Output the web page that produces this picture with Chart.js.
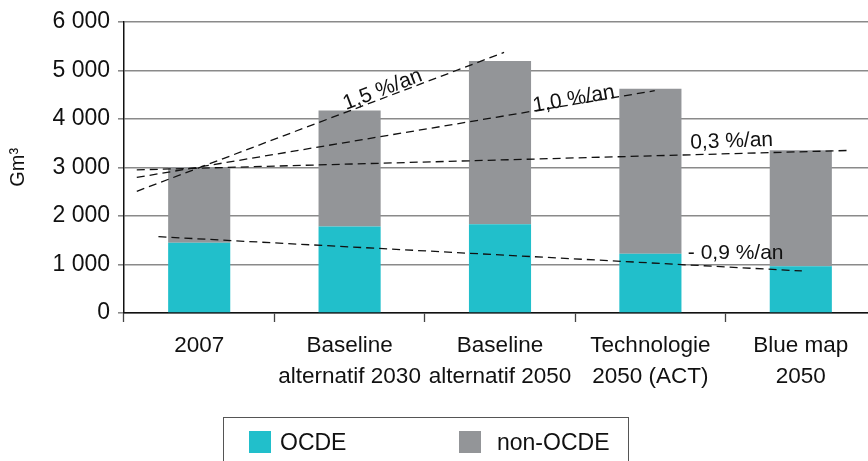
<!DOCTYPE html>
<html><head><meta charset="utf-8">
<script src="https://cdn.jsdelivr.net/npm/chart.js@4/dist/chart.umd.min.js"></script>
<style>
html,body{margin:0;padding:0;background:#fff;overflow:hidden;width:868px;height:461px;}
#wrap{position:relative;width:868px;height:461px;overflow:hidden;}
canvas{position:absolute;left:0;top:0;}
#legend{position:absolute;left:223px;top:417px;width:406px;height:60px;border:1px solid #555;box-sizing:border-box;font-family:"Liberation Sans",Arial,sans-serif;font-size:23px;color:#111;}
.sw{position:absolute;top:13px;width:22px;height:22px;}
.tx{position:absolute;top:10px;line-height:28px;white-space:nowrap;}
</style></head>
<body><div id="wrap"><canvas id="c" width="876" height="461"></canvas><div id="legend"></div></div>
<script>
// ---- data ----
const categories = [['2007'], ['Baseline', 'alternatif 2030'], ['Baseline', 'alternatif 2050'], ['Technologie', '2050 (ACT)'], ['Blue map', '2050']];
const seriesNames = ['OCDE', 'non-OCDE'];
const ocde = [1450, 1780, 1830, 1220, 965];
const nonOcde = [1560, 2390, 3360, 3400, 2390];
const yTicks = [0, 1000, 2000, 3000, 4000, 5000, 6000];
const yTitle = 'Gm³';
// trend lines: x = position along the category axis (0 = first category), y = Gm³
const trend15 = [{x: -0.415, y: 2508}, {x: 2.027, y: 5369}];
const trend10 = [{x: -0.415, y: 2793}, {x: 3.029, y: 4580}];
const trend03 = [{x: -0.415, y: 2949}, {x: 4.307, y: 3348}];
const trendM09 = [{x: -0.271, y: 1572}, {x: 4.007, y: 866}];
const trendLabels = ['1,5 %/an', '1,0 %/an', '0,3 %/an', '- 0,9 %/an'];

// ---- presentation ----
const COLORS = ['#21bfcb', '#939598'];
const FONT = '"Liberation Sans", Arial, Helvetica, sans-serif';
const labelPlacement = [
  {x: 1.22, y: 4600, rot: -21},
  {x: 2.49, y: 4405, rot: -10},
  {x: 3.54, y: 3535, rot: -2},
  {x: 3.567, y: 1237, rot: 0}
];
const fmt = v => String(v).replace(/\B(?=(\d{3})+(?!\d))/g, ' ');

const trendLabelPlugin = {
  id: 'trendLabels',
  afterDatasetsDraw(chart) {
    const ctx = chart.ctx, xs = chart.scales.xl, ys = chart.scales.yl;
    ctx.save();
    ctx.font = '21px ' + FONT;
    ctx.fillStyle = '#111';
    ctx.textAlign = 'center';
    ctx.textBaseline = 'middle';
    trendLabels.forEach((t, i) => {
      const p = labelPlacement[i];
      ctx.save();
      ctx.translate(xs.getPixelForValue(p.x), ys.getPixelForValue(p.y));
      ctx.rotate(p.rot * Math.PI / 180);
      ctx.fillText(t, 0, 0);
      ctx.restore();
    });
    ctx.restore();
  }
};

const trendDs = [trend15, trend10, trend03, trendM09].map((d, i) => ({
  type: 'scatter', label: trendLabels[i], data: d, xAxisID: 'xl', yAxisID: 'yl',
  showLine: true, borderColor: '#111', borderWidth: 1.3, borderDash: [8, 5],
  pointRadius: 0, fill: false, order: 1
}));

const barCommon = {type: 'bar', stack: 'main', grouped: false, categoryPercentage: 1, barPercentage: 0.413, order: 2, borderWidth: 0};

new Chart(document.getElementById('c'), {
  type: 'bar',
  data: {
    labels: categories,
    datasets: [
      {...barCommon, label: seriesNames[0], data: ocde, backgroundColor: COLORS[0]},
      {...barCommon, label: seriesNames[1], data: nonOcde, backgroundColor: COLORS[1]},
      ...trendDs
    ]
  },
  options: {
    responsive: false, animation: false, devicePixelRatio: 1,
    layout: {padding: {top: 18, right: 0, left: 0, bottom: 0}},
    plugins: {legend: {display: false}, tooltip: {enabled: false}},
    scales: {
      x: {
        stacked: true,
        grid: {display: true, drawOnChartArea: false, offset: true, tickLength: 9, tickColor: '#444', tickWidth: 1.3},
        border: {color: '#111', width: 1.5},
        ticks: {color: '#111', font: {family: FONT, size: 22.5, lineHeight: 1.4}, padding: 8, maxRotation: 0, autoSkip: false},
        afterFit: s => { s.height = 148; }
      },
      y: {
        stacked: true, min: 0, max: 6000,
        afterBuildTicks: s => { s.ticks = yTicks.map(v => ({value: v})); },
        grid: {color: '#8a8a8a', lineWidth: 1.6, tickLength: 6, tickColor: '#8a8a8a'},
        border: {color: '#111', width: 1.5},
        ticks: {color: '#111', font: {family: FONT, size: 23}, padding: 8, callback: v => fmt(v)},
        title: {display: true, text: yTitle, color: '#111', font: {family: FONT, size: 20}, padding: {top: 6, bottom: 0}},
        afterFit: s => { s.width = 124; }
      },
      xl: {type: 'linear', display: false, offset: false, grid: {offset: false}, min: -0.5, max: 4.5},
      yl: {type: 'linear', display: false, offset: false, min: 0, max: 6000}
    }
  },
  plugins: [trendLabelPlugin]
});

// HTML legend built from the series
const leg = document.getElementById('legend');
const swLeft = [25, 235], txLeft = [56, 273];
seriesNames.forEach((n, i) => {
  const sw = document.createElement('div'); sw.className = 'sw';
  sw.style.left = swLeft[i] + 'px'; sw.style.background = COLORS[i];
  const tx = document.createElement('div'); tx.className = 'tx';
  tx.style.left = txLeft[i] + 'px'; tx.textContent = n;
  leg.appendChild(sw); leg.appendChild(tx);
});
</script>
</body></html>
